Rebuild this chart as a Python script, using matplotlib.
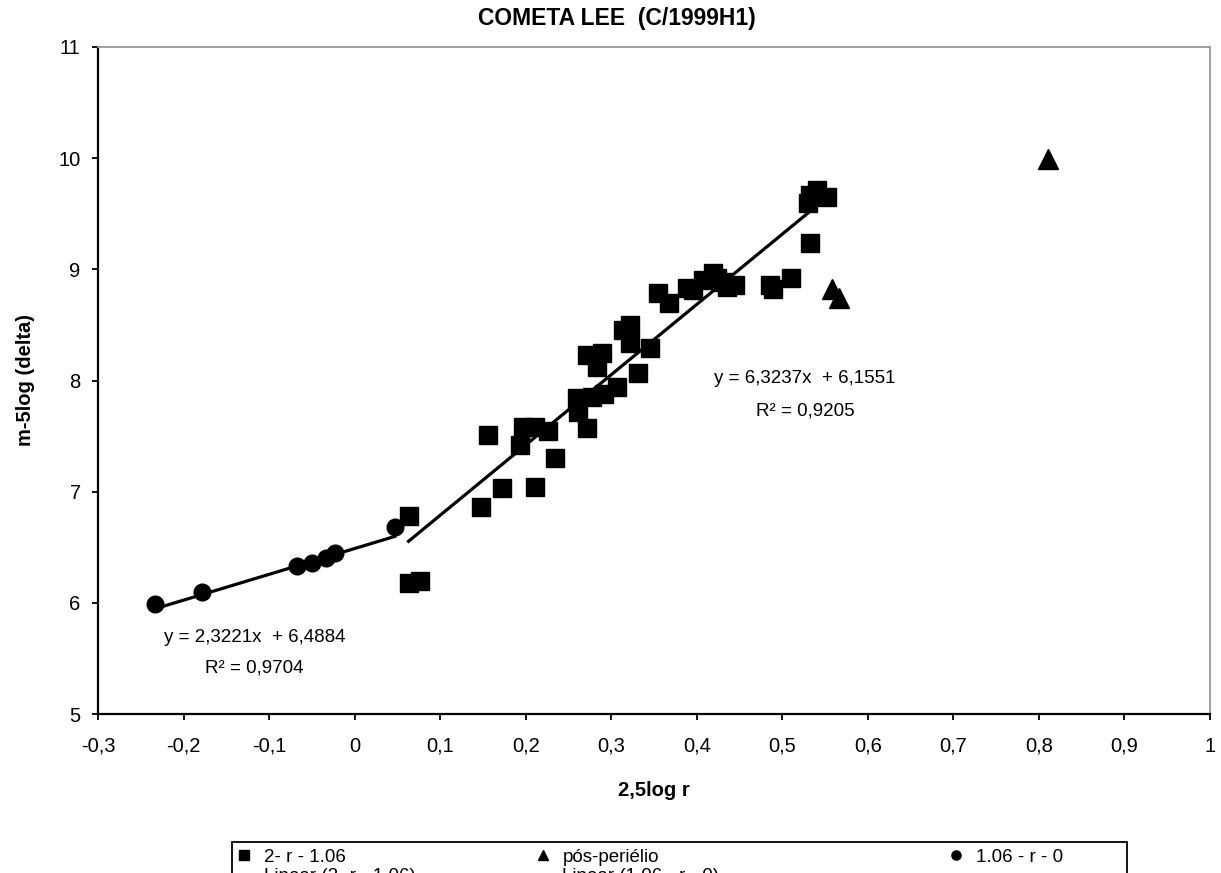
import numpy as np
import matplotlib
matplotlib.use("Agg")
from matplotlib import pyplot as plt
from matplotlib.patches import Rectangle
from matplotlib.ticker import MultipleLocator, FuncFormatter

plt.rcParams['font.family'] = ['Liberation Sans', 'DejaVu Sans']

# 2- r - 1.06 (squares)
sq_x = [0.063, 0.063, 0.077, 0.148, 0.156, 0.172, 0.193, 0.197, 0.211, 0.211,
        0.226, 0.234, 0.260, 0.261, 0.272, 0.278, 0.291, 0.307, 0.331, 0.272,
        0.283, 0.289, 0.314, 0.322, 0.322, 0.345, 0.355, 0.367, 0.389, 0.396,
        0.407, 0.419, 0.424, 0.431, 0.435, 0.445, 0.486, 0.489, 0.510, 0.530,
        0.532, 0.532, 0.541, 0.552]
sq_y = [6.78, 6.18, 6.20, 6.86, 7.51, 7.03, 7.42, 7.58, 7.58, 7.04,
        7.55, 7.30, 7.84, 7.72, 7.57, 7.85, 7.88, 7.94, 8.07, 8.23,
        8.12, 8.25, 8.45, 8.50, 8.34, 8.29, 8.79, 8.70, 8.83, 8.81,
        8.90, 8.97, 8.92, 8.89, 8.84, 8.86, 8.86, 8.82, 8.92, 9.60,
        9.24, 9.67, 9.71, 9.65]

# pos-perielio (triangles)
tri_x = [0.558, 0.566, 0.811]
tri_y = [8.82, 8.74, 9.99]

# 1.06 - r - 0 (circles)
ci_x = [-0.233, -0.178, -0.067, -0.050, -0.034, -0.023, 0.047]
ci_y = [5.99, 6.10, 6.33, 6.36, 6.40, 6.45, 6.68]

# trendlines (from the chart labels)
sq_slope, sq_icpt = 6.3237, 6.1551
ci_slope, ci_icpt = 2.3221, 6.4884
sq_eq = ['y = 6,3237x  + 6,1551', 'R² = 0,9205']
ci_eq = ['y = 2,3221x  + 6,4884', 'R² = 0,9704']

fig = plt.figure(figsize=(12.21, 8.73), dpi=100)
ax = fig.add_axes([98/1221, 1-714/873, (1210-98)/1221, (714-47)/873])

hs, = ax.plot(sq_x, sq_y, 's', color='black', ms=13, ls='none')
ht, = ax.plot(tri_x, tri_y, '^', color='black', ms=14, ls='none')
hc, = ax.plot(ci_x, ci_y, 'o', color='black', ms=12, ls='none')

xs = np.array([min(sq_x), max(sq_x)])
l1, = ax.plot(xs, sq_slope*xs + sq_icpt, color='black', lw=2.3)
xc = np.array([min(ci_x), max(ci_x)])
l2, = ax.plot(xc, ci_slope*xc + ci_icpt, color='black', lw=2.3)

def comma(v, pos):
    s = ('%.1f' % v).replace('.', ',')
    if s.endswith(',0'):
        s = s[:-2]
    if s == '-0':
        s = '0'
    return s

ax.set_xlim(-0.3, 1.0)
ax.set_ylim(5, 11)
ax.xaxis.set_major_locator(MultipleLocator(0.1))
ax.yaxis.set_major_locator(MultipleLocator(1))
ax.xaxis.set_major_formatter(FuncFormatter(comma))
ax.yaxis.set_major_formatter(FuncFormatter(lambda v, p: '%d' % v))
ax.tick_params(axis='x', direction='out', length=4.5, width=1.3, labelsize=14.5, pad=12)
ax.tick_params(axis='y', direction='out', length=4.5, width=1.3, labelsize=14.5, pad=8)

for s in ['left', 'bottom']:
    ax.spines[s].set_linewidth(1.6)
    ax.spines[s].set_color('black')
for s in ['top', 'right']:
    ax.spines[s].set_linewidth(1.3)
    ax.spines[s].set_color('#999999')

ax.set_xlabel('2,5log r', fontsize=14.5, fontweight='bold')
ax.set_ylabel('m-5log (delta)', fontsize=14.5, fontweight='bold')
ax.xaxis.set_label_coords(0.5, -0.10)
ax.yaxis.set_label_coords(-0.057, 0.5)

fig.text(617/1221, 1-18/873, 'COMETA LEE  (C/1999H1)', fontsize=16.5,
         fontweight='bold', ha='center', va='center')

ax.text(0.5265, 8.02, sq_eq[0], fontsize=13.5, ha='center', va='center')
ax.text(0.5265, 7.73, sq_eq[1], fontsize=13.5, ha='center', va='center')
ax.text(-0.117, 5.684, ci_eq[0], fontsize=13.5, ha='center', va='center')
ax.text(-0.117, 5.414, ci_eq[1], fontsize=13.5, ha='center', va='center')

# legend (cut by the bottom edge, like the reference)
leg_kw = dict(loc='upper left', fontsize=13.5, frameon=False, markerscale=0.55,
              borderpad=0.35, labelspacing=0.1, handlelength=1.2,
              handletextpad=0.45, borderaxespad=0)
fig.legend([hs, l1, ht, l2],
           ['2- r - 1.06', 'Linear (2- r - 1.06)', 'pós-periélio', 'Linear (1.06 - r - 0)'],
           ncol=2, columnspacing=6.2,
           bbox_to_anchor=(226/1221, 1-842/873), **leg_kw)
fig.legend([hc], ['1.06 - r - 0'],
           bbox_to_anchor=(938/1221, 1-842/873), **leg_kw)
fig.add_artist(Rectangle((232/1221, -0.05), (1127-232)/1221, 0.05 + 1-842/873,
                         transform=fig.transFigure, fill=False,
                         edgecolor='black', lw=1.3))

fig.savefig('out.png', dpi=100)
